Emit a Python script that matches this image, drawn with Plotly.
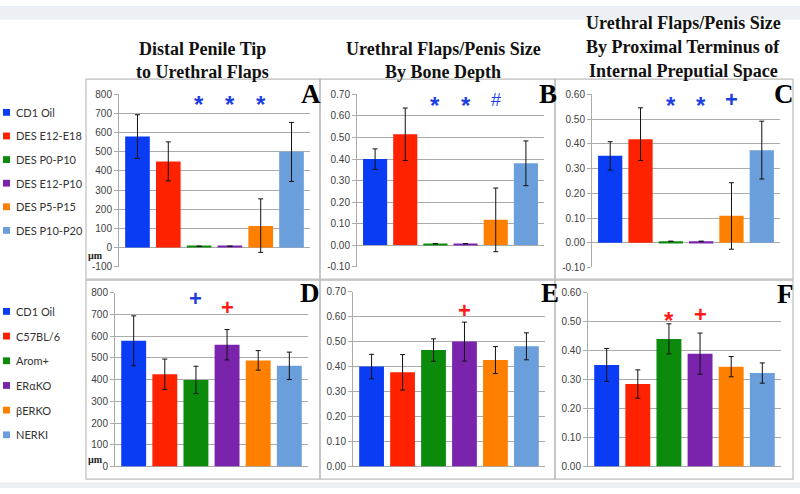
import plotly.graph_objects as go

W, H = 800, 494

# ---------------- data ----------------
top_categories = ["CD1 Oil", "DES E12-E18", "DES P0-P10", "DES E12-P10", "DES P5-P15", "DES P10-P20"]
bottom_categories = ["CD1 Oil", "C57BL/6", "Arom+", "ERαKO", "βERKO", "NERKI"]
bar_colors = ["#0A3CF5", "#FF2200", "#0B8A0B", "#7A24AE", "#FF8000", "#6A9FDB"]

a_values = [580, 450, 6, 6, 112, 500]
a_err_plus = [114, 102, None, None, 142, 154]
a_err_minus = [114, 102, None, None, 138, 155]

b_values = [0.400, 0.515, 0.006, 0.006, 0.117, 0.380]
b_err_plus = [0.047, 0.122, None, None, 0.148, 0.104]
b_err_minus = [0.048, 0.122, None, None, 0.148, 0.104]

c_values = [0.352, 0.419, 0.006, 0.006, 0.109, 0.374]
c_err_plus = [0.057, 0.127, None, None, 0.134, 0.118]
c_err_minus = [0.058, 0.086, None, None, 0.135, 0.116]

d_values = [579, 425, 399, 561, 489, 464]
d_err = [115, 70, 63, 70, 45, 63]

e_values = [0.400, 0.377, 0.466, 0.500, 0.426, 0.481]
e_err = [0.049, 0.071, 0.045, 0.078, 0.054, 0.054]

f_values = [0.351, 0.285, 0.441, 0.390, 0.345, 0.323]
f_err = [0.057, 0.049, 0.052, 0.071, 0.035, 0.035]

# significance marks: category index, value level, symbol, colour
a_marks = [(2, 778, "*", "blue"), (3, 778, "*", "blue"), (4, 778, "*", "blue")]
b_marks = [(2, 0.676, "*", "blue"), (3, 0.676, "*", "blue"), (4, 0.676, "#", "blue")]
c_marks = [(2, 0.579, "*", "blue"), (3, 0.579, "*", "blue"), (4, 0.579, "+", "blue")]
d_marks = [(2, 776, "+", "blue"), (3, 731, "+", "red")]
e_marks = [(3, 0.625, "+", "red")]
f_marks = [(2, 0.524, "*", "red"), (3, 0.524, "+", "red")]

a_title = ["Distal Penile Tip", "to Urethral Flaps"]
b_title = ["Urethral Flaps/Penis Size", "By Bone Depth"]
c_title = ["Urethral Flaps/Penis Size", "By Proximal Terminus of", "Internal Preputial Space"]

# ---------------- layout helpers ----------------
def X(p):
    return p / W

def Y(p):
    return 1 - p / H

mark_colors = {"blue": "#1E3FE0", "red": "#FF1A1A"}

panels = [
    dict(letter="A", cats=top_categories, vals=a_values, ep=a_err_plus, em=a_err_minus,
         lo=-100, hi=800, step=100, dec=0, box=(86, 75, 320, 280), plot=(119, 90.7, 310, 267),
         marks=a_marks, lpos=(311, 90), unit=(95, 256)),
    dict(letter="B", cats=top_categories, vals=b_values, ep=b_err_plus, em=b_err_minus,
         lo=-0.1, hi=0.7, step=0.1, dec=2, box=(320, 75, 555, 280), plot=(357, 90.7, 544, 267),
         marks=b_marks, lpos=(548, 90), unit=None),
    dict(letter="C", cats=top_categories, vals=c_values, ep=c_err_plus, em=c_err_minus,
         lo=-0.1, hi=0.6, step=0.1, dec=2, box=(555, 75, 793, 280), plot=(592, 90.7, 780, 268),
         marks=c_marks, lpos=(784, 90), unit=None),
    dict(letter="D", cats=bottom_categories, vals=d_values, ep=d_err, em=d_err,
         lo=0, hi=800, step=100, dec=0, box=(86, 281, 320, 485), plot=(115, 294, 308, 472),
         marks=d_marks, lpos=(310, 294), unit=(95, 465)),
    dict(letter="E", cats=bottom_categories, vals=e_values, ep=e_err, em=e_err,
         lo=0, hi=0.7, step=0.1, dec=2, box=(320, 281, 555, 485), plot=(353, 292.7, 545, 472),
         marks=e_marks, lpos=(550, 294), unit=None),
    dict(letter="F", cats=bottom_categories, vals=f_values, ep=f_err, em=f_err,
         lo=0, hi=0.6, step=0.1, dec=2, box=(555, 281, 793, 485), plot=(588, 294, 781, 472),
         marks=f_marks, lpos=(785, 295), unit=None),
]

fig = go.Figure()
shapes = []
annotations = []
layout = {}

# background bands
shapes.append(dict(type="rect", xref="paper", yref="paper", x0=0, x1=1, y0=Y(14), y1=1,
                   fillcolor="#ECF0F4", line=dict(width=0), layer="below"))
shapes.append(dict(type="rect", xref="paper", yref="paper", x0=0, x1=1, y0=0, y1=Y(488),
                   fillcolor="#ECF0F4", line=dict(width=0), layer="below"))

grid_c = "#ABABAB"

for i, p in enumerate(panels, start=1):
    xa = "xaxis" if i == 1 else f"xaxis{i}"
    ya = "yaxis" if i == 1 else f"yaxis{i}"
    xr = "x" if i == 1 else f"x{i}"
    yr = "y" if i == 1 else f"y{i}"
    cat_idx = list(range(len(p["cats"])))
    fig.add_trace(go.Bar(
        x=cat_idx, y=p["vals"], xaxis=xr, yaxis=yr,
        marker=dict(color=bar_colors, line=dict(width=0)),
        width=0.8, hovertext=p["cats"], showlegend=False,
        error_y=dict(type="data", array=p["ep"], arrayminus=p["em"], symmetric=False,
                     color="#111111", thickness=1, width=2.5),
    ))
    x0, y0, x1, y1 = p["plot"]
    n = int(round((p["hi"] - p["lo"]) / p["step"]))
    tv = [round(p["lo"] + k * p["step"], 4) for k in range(n + 1)]
    tt = [f"{v:.{p['dec']}f}" for v in tv]
    layout[xa] = dict(domain=[X(x0), X(x1)], range=[-0.6, 5.6], anchor=yr,
                      visible=False, fixedrange=True)
    layout[ya] = dict(domain=[Y(y1), Y(y0)], range=[p["lo"], p["hi"]], anchor=xr,
                      tickvals=tv, ticktext=tt, showgrid=True, gridcolor=grid_c, gridwidth=1,
                      zeroline=True, zerolinecolor=grid_c, zerolinewidth=1,
                      showline=True, linecolor=grid_c, linewidth=1,
                      ticks="outside", ticklen=4, tickcolor=grid_c,
                      tickfont=dict(family="Liberation Sans", size=10, color="#404040"),
                      fixedrange=True)
    bx0, by0, bx1, by1 = p["box"]
    shapes.append(dict(type="rect", xref="paper", yref="paper", x0=X(bx0), x1=X(bx1),
                       y0=Y(by1), y1=Y(by0), line=dict(color="#BDBDBD", width=1.2),
                       fillcolor="rgba(0,0,0,0)"))
    lx, ly = p["lpos"]
    annotations.append(dict(text=f"<b>{p['letter']}</b>", xref="paper", yref="paper",
                            x=X(lx), y=Y(ly), xanchor="center", yanchor="middle", showarrow=False,
                            font=dict(family="Liberation Serif", size=27, color="#000000")))
    if p["unit"]:
        ux, uy = p["unit"]
        annotations.append(dict(text="<b>µm</b>", xref="paper", yref="paper", x=X(ux), y=Y(uy),
                                xanchor="center", yanchor="middle", showarrow=False,
                                font=dict(family="Liberation Serif", size=10, color="#222222")))
    for (cx, cy, sym, col) in p["marks"]:
        if sym == "*":
            txt, fam, sz, yshift = "<b>*</b>", "Liberation Sans", 24, -6
        elif sym == "+":
            txt, fam, sz, yshift = "<b>+</b>", "Liberation Sans", 22, 0
        else:
            txt, fam, sz, yshift = "#", "Liberation Sans", 18, 0
        annotations.append(dict(text=txt, xref=xr, yref=yr, x=cx, y=cy, xanchor="center",
                                yanchor="middle", showarrow=False, yshift=yshift,
                                font=dict(family=fam, size=sz, color=mark_colors[col])))

# titles
title_font = dict(family="Liberation Serif", size=18, color="#111111")
for lines, cx, ys in [(a_title, 202, [44, 68]), (b_title, 443, [44, 68]), (c_title, 683, [17, 42, 67])]:
    for t, yy in zip(lines, ys):
        annotations.append(dict(text=f"<b>{t}</b>", xref="paper", yref="paper", x=X(cx), y=Y(yy),
                                xanchor="center", yanchor="middle", showarrow=False, font=title_font))

# legends (left column)
leg_font = dict(family="Lato", size=11, color="#333333")
for cats, y_start, gap in [(top_categories, 109, 24.2), (bottom_categories, 313, 25.3)]:
    for k, (name, col) in enumerate(zip(cats, bar_colors)):
        yy = y_start + k * gap
        shapes.append(dict(type="rect", xref="paper", yref="paper", x0=X(3), x1=X(10),
                           y0=Y(yy + 3.5), y1=Y(yy - 3.5), fillcolor=col, line=dict(width=0)))
        annotations.append(dict(text=name, xref="paper", yref="paper", x=X(13.5), y=Y(yy),
                                xanchor="left", yanchor="middle", showarrow=False, font=leg_font))

fig.update_layout(
    width=W, height=H, margin=dict(l=0, r=0, t=0, b=0),
    paper_bgcolor="#FFFFFF", plot_bgcolor="rgba(0,0,0,0)",
    shapes=shapes, annotations=annotations, showlegend=False, bargap=0.2,
    **layout,
)

fig.write_html("out.html", config={"displayModeBar": False},
               post_script="document.body.style.margin='0px';document.body.style.overflow='hidden';")
